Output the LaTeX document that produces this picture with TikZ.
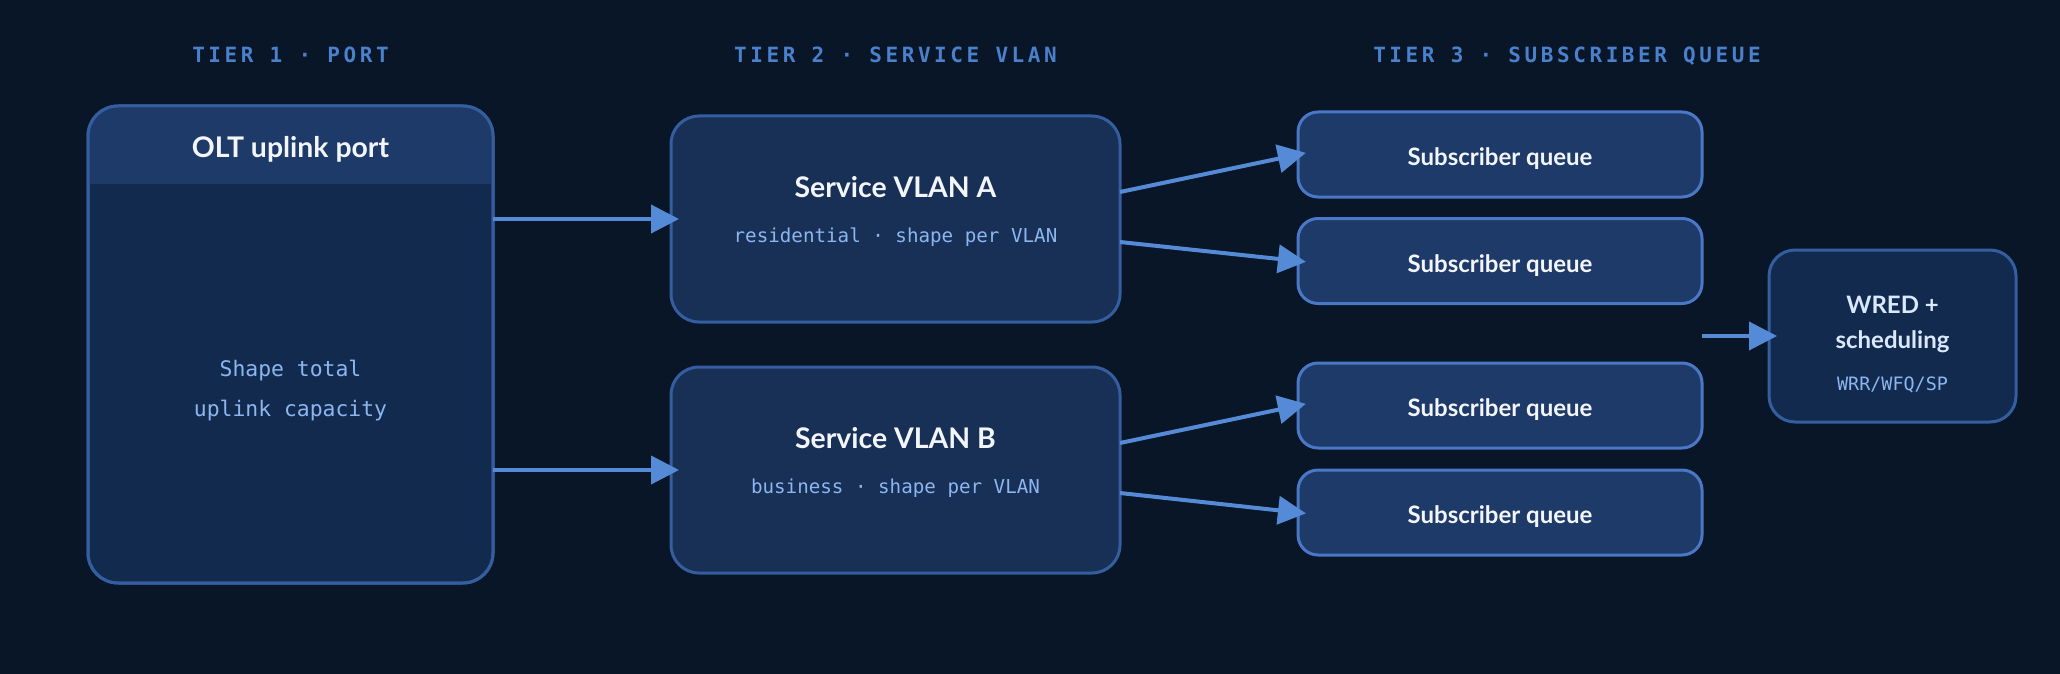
\documentclass[tikz,border=0pt]{standalone}
\usepackage{fontspec}
\setmainfont{Lato}
\newfontfamily\monofont{DejaVu Sans Mono}
\newfontfamily\tierfont[LetterSpace=17]{DejaVu Sans Mono}
\usetikzlibrary{arrows.meta,positioning,calc}
\definecolor{fondo}{RGB}{8,22,39}
\definecolor{cuerpo}{RGB}{19,42,79}
\definecolor{cabecera}{RGB}{30,58,104}
\definecolor{vlan}{RGB}{24,47,86}
\definecolor{cola}{RGB}{30,58,104}
\definecolor{borde}{RGB}{52,94,160}
\definecolor{bordeClaro}{RGB}{74,120,198}
\definecolor{flecha}{RGB}{85,138,214}
\definecolor{rotulo}{RGB}{74,128,204}
\definecolor{tenue}{RGB}{140,182,240}
\definecolor{blanco}{RGB}{242,245,250}
\definecolor{hielo}{RGB}{218,232,252}

\begin{document}
\begin{tikzpicture}[x=0.5pt,y=-0.5pt,
    marco/.style={draw=#1,line width=1.5pt,inner sep=0pt,outer sep=0pt},
    flujo/.style={draw=flecha,line width=2pt,-{Triangle[length=14pt,width=14pt]},shorten >=-4pt},
    tier/.style={text=rotulo,font=\tierfont\bfseries\fontsize{10.5pt}{12pt}\selectfont,anchor=base,inner sep=0pt},
    titulo/.style={text=blanco,font=\fontsize{14.2pt}{16pt}\selectfont\bfseries,anchor=base,inner sep=0pt},
    cola txt/.style={text=#1,font=\fontsize{12pt}{14pt}\selectfont\bfseries,anchor=base,inner sep=0pt},
    nota/.style={text=tenue,font=\monofont\fontsize{#1}{12pt}\selectfont,anchor=base,inner sep=0pt}]
  \fill[fondo] (0,0) rectangle (2060,674);
  \useasboundingbox (0,0) rectangle (2060,674);

  \node[tier] (tierA) at (290.5,63) {TIER 1 · PORT};
  \node[tier] (tierB) at (895.5,63) {TIER 2 · SERVICE VLAN};
  \node[tier] (tierC) at (1567,63) {TIER 3 · SUBSCRIBER QUEUE};

  % puerto
  \node[marco=borde,fill=cuerpo,rounded corners=15pt,minimum width=202.5pt,minimum height=238.5pt] (olt) at (290.5,344.5) {};
  \begin{scope}
    \clip (olt.north west) rectangle (olt.east |- 0,183);
    \fill[cabecera,rounded corners=15pt] (olt.north west) rectangle (olt.south east);
  \end{scope}
  \draw[borde,line width=1.5pt,rounded corners=15pt] (olt.north west) rectangle (olt.south east);
  \node[titulo] (oltT) at (290.5,157) {OLT uplink port};
  \node[nota=10.7pt] (oltA) at (290.5,376) {Shape total};
  \node[nota=10.7pt] (oltB) at (290.5,416) {uplink capacity};

  % vlans
  \node[marco=borde,fill=vlan,rounded corners=14pt,minimum width=224.5pt,minimum height=103pt] (vA) at (895.5,219) {};
  \node[titulo] (vAT) at (895.5,197) {Service VLAN A};
  \node[nota=9.6pt] (vAS) at (895.5,242) {residential · shape per VLAN};
  \node[marco=borde,fill=vlan,rounded corners=14pt,minimum width=224.5pt,minimum height=103pt] (vB) at (895.5,470) {};
  \node[titulo] (vBT) at (895.5,448) {Service VLAN B};
  \node[nota=9.6pt] (vBS) at (895.5,493) {business · shape per VLAN};

  % colas
  \foreach \n/\y in {1/154.5,2/261,3/405.5,4/512.5}{
    \node[marco=bordeClaro,fill=cola,rounded corners=10pt,minimum width=202pt,minimum height=42.5pt] (q\n) at (1500,\y) {};
    \node[cola txt=blanco] (q\n T) at (1500,\y+11) {Subscriber queue};
  }

  \node[marco=borde,fill=cuerpo,rounded corners=13pt,minimum width=123.5pt,minimum height=86pt] (wred) at (1892.5,336) {};
  \node[cola txt=hielo] (wredA) at (1892.5,313) {WRED +};
  \node[cola txt=hielo] (wredB) at (1892.5,348) {scheduling};
  \node[nota=9.2pt] (wredC) at (1892.5,390) {WRR/WFQ/SP};

  \draw[flujo] (olt.east |- vA) -- (vA.west);
  \draw[flujo] (olt.east |- vB) -- (vB.west);
  \foreach \s/\t/\d in {vA/q1/-27,vA/q2/23,vB/q3/-27,vB/q4/23}
    \draw[flujo] ($(\s.east)+(0,\d)$) -- (\t.west);
  \coordinate (junta) at (q2.east |- wred.west);
  \draw[flujo] (junta) -- (wred.west);
\end{tikzpicture}
\end{document}
